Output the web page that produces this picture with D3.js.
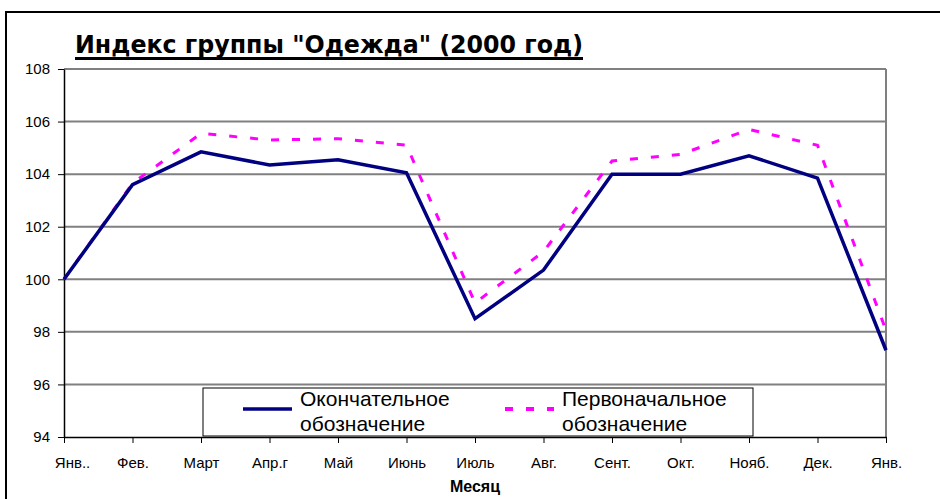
<!DOCTYPE html>
<html>
<head>
<meta charset="utf-8">
<script src="https://cdn.jsdelivr.net/npm/d3@7"></script>
<style>
  body { margin: 0; background: #fff; }
  text { font-family: "Liberation Sans", Arial, sans-serif; }
</style>
</head>
<body>
<svg width="940" height="499"></svg>
<script>
// chart data
var months = ["Янв..", "Фев.", "Март", "Апр.г", "Май", "Июнь", "Июль", "Авг.", "Сент.", "Окт.", "Нояб.", "Дек.", "Янв."];
var finalValues = [100, 103.6, 104.85, 104.35, 104.55, 104.05, 98.5, 100.35, 104.0, 104.0, 104.7, 103.85, 97.3];
var initialValues = [100, 103.65, 105.55, 105.3, 105.35, 105.1, 99.1, 101.05, 104.5, 104.75, 105.7, 105.1, 98.05];
var yTicks = [94, 96, 98, 100, 102, 104, 106, 108];
var titleText = "Индекс группы \"Одежда\" (2000 год)";
var xTitle = "Месяц";
var seriesNames = [["Окончательное", "обозначение"], ["Первоначальное", "обозначение"]];

var svg = d3.select("svg");
var margin = {top: 69, right: 54, bottom: 62, left: 64},
    width = +svg.attr("width") - margin.left - margin.right,
    height = +svg.attr("height") - margin.top - margin.bottom;

// outer border
svg.append("rect")
    .attr("x", 6).attr("y", 12)
    .attr("width", 960).attr("height", 520)
    .attr("fill", "none").attr("stroke", "#000").attr("stroke-width", 2);

var title = svg.append("text")
    .attr("x", 75).attr("y", 53)
    .style("font-family", "'DejaVu Sans', Verdana, sans-serif")
    .style("font-weight", "bold")
    .style("font-size", "24px")
    .attr("textLength", 508)
    .attr("lengthAdjust", "spacingAndGlyphs")
    .text(titleText);
svg.append("rect")
    .attr("x", 75).attr("y", 57)
    .attr("width", 508).attr("height", 3)
    .attr("fill", "#000");

var g = svg.append("g").attr("transform", "translate(" + margin.left + "," + margin.top + ")");

var x = d3.scalePoint().domain(d3.range(months.length)).range([0, width]);
var y = d3.scaleLinear().domain([94, 108]).range([height, 0]);

// gridlines
g.selectAll(".grid")
    .data(yTicks.filter(function(d) { return d > 94; }))
    .enter().append("line")
    .attr("x1", 0).attr("x2", width)
    .attr("y1", function(d) { return y(d); })
    .attr("y2", function(d) { return y(d); })
    .attr("stroke", "#808080").attr("stroke-width", 2);

// right border of plot
g.append("line")
    .attr("x1", width).attr("x2", width)
    .attr("y1", 0).attr("y2", height)
    .attr("stroke", "#808080").attr("stroke-width", 2);

// y axis
var yAxis = g.append("g")
    .call(d3.axisLeft(y).tickValues(yTicks).tickSize(6).tickPadding(8).tickSizeOuter(0));
yAxis.select(".domain").attr("stroke", "#000").attr("stroke-width", 1.5);
yAxis.selectAll("text").style("font-size", "15px").style("font-family", "'Liberation Sans', Arial, sans-serif").attr("fill", "#000");

// x axis
var xAxis = g.append("g")
    .attr("transform", "translate(0," + height + ")")
    .call(d3.axisBottom(x).tickSize(6).tickPadding(14).tickSizeOuter(0)
        .tickFormat(function(i) { return months[i]; }));
xAxis.select(".domain").attr("stroke", "#000").attr("stroke-width", 1.5);
xAxis.selectAll("text").style("font-size", "15px").style("font-family", "'Liberation Sans', Arial, sans-serif").attr("fill", "#000");
xAxis.select(".tick:first-of-type text").attr("dx", 8);

svg.append("text")
    .attr("x", 475).attr("y", 492)
    .attr("text-anchor", "middle")
    .style("font-weight", "bold").style("font-size", "16px")
    .text(xTitle);

var line = d3.line()
    .x(function(d, i) { return x(i); })
    .y(function(d) { return y(d); });

// initial (dashed magenta)
g.append("path")
    .datum(initialValues)
    .attr("d", line)
    .attr("fill", "none")
    .attr("stroke", "#ff00ff").attr("stroke-width", 3)
    .attr("stroke-dasharray", "8,13");

// final (navy)
g.append("path")
    .datum(finalValues)
    .attr("d", line)
    .attr("fill", "none")
    .attr("stroke", "#000080").attr("stroke-width", 3.5)
    .attr("stroke-linejoin", "miter");

// legend
var legend = svg.append("g").attr("transform", "translate(203,388)");
legend.append("rect")
    .attr("width", 550).attr("height", 48)
    .attr("fill", "#fff").attr("stroke", "#000").attr("stroke-width", 1);

var items = [
    {x: 40, color: "#000080", dash: null, lines: seriesNames[0]},
    {x: 302, color: "#ff00ff", dash: "8,13", lines: seriesNames[1]}
];
items.forEach(function(it) {
    legend.append("line")
        .attr("x1", it.x).attr("x2", it.x + 49)
        .attr("y1", 21).attr("y2", 21)
        .attr("stroke", it.color).attr("stroke-width", it.dash ? 4 : 3.5)
        .attr("stroke-dasharray", it.dash);
    var t = legend.append("text")
        .attr("x", it.x + 57).attr("y", 18)
        .style("font-size", "21px");
    t.append("tspan").attr("x", it.x + 57).attr("dy", 0).text(it.lines[0]);
    t.append("tspan").attr("x", it.x + 57).attr("dy", 25).text(it.lines[1]);
});
</script>
</body>
</html>
